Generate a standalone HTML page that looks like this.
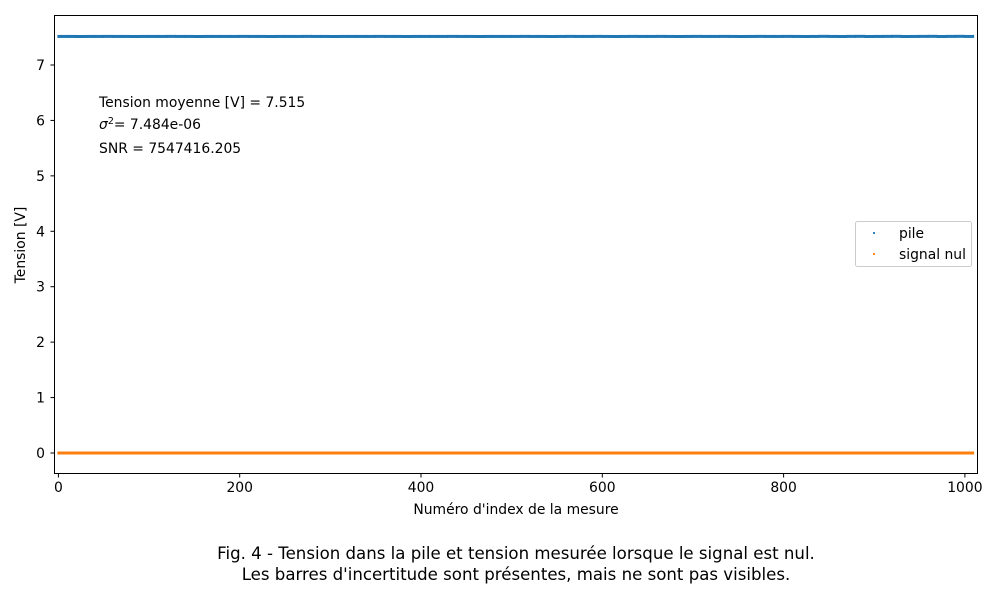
<!DOCTYPE html>
<html><head><meta charset="utf-8"><style>
body{margin:0;background:#fff;width:1000px;height:600px;overflow:hidden;font-family:"DejaVu Sans","Liberation Sans",sans-serif}
svg text{font-family:"DejaVu Sans","Liberation Sans",sans-serif}
</style></head><body>
<svg id="c" width="1000" height="600" xmlns="http://www.w3.org/2000/svg">
<rect x="0" y="0" width="1000" height="600" fill="#fff"/>
<g id="plot"></g>
<rect x="54.5" y="15.5" width="923" height="458" fill="none" stroke="#000" stroke-width="1"/>
<g id="axes"></g>
<text x="99" y="107" font-size="13.9">Tension moyenne [V] = 7.515</text>
<text x="99" y="129" font-size="13.9"><tspan font-style="italic">σ</tspan><tspan font-size="9.5" dy="-5">2</tspan><tspan dy="5">= 7.484e-06</tspan></text>
<text x="99" y="153" font-size="13.9">SNR = 7547416.205</text>
<g>
<rect x="855.5" y="221.5" width="116" height="45" rx="2" fill="#fff" stroke="#ccc"/>
<circle cx="874" cy="233" r="1.1" fill="#1f77b4"/>
<text x="899" y="238" font-size="13.9">pile</text>
<circle cx="874" cy="254" r="1.1" fill="#ff7f0e"/>
<text x="899" y="259" font-size="13.9">signal nul</text>
</g>
<text x="516" y="514" font-size="13.9" text-anchor="middle">Numéro d'index de la mesure</text>
<text transform="translate(25,245) rotate(-90)" font-size="13.9" text-anchor="middle">Tension [V]</text>
<text x="516" y="559" font-size="16.6" text-anchor="middle">Fig. 4 - Tension dans la pile et tension mesurée lorsque le signal est nul.</text>
<text x="516" y="580" font-size="16.6" text-anchor="middle">Les barres d'incertitude sont présentes, mais ne sont pas visibles.</text>
</svg>
<script>
const xTicks=[0,200,400,600,800,1000];
const yTicks=[0,1,2,3,4,5,6,7];
const sampleStep=10;
const pileValues=[7.515,7.515,7.514,7.515,7.515,7.516,7.515,7.515,7.514,7.515,7.515,7.515,7.516,7.515,7.515,7.514,7.515,7.515,7.515,7.515,7.516,7.515,7.515,7.514,7.515,7.515,7.515,7.516,7.515,7.515,7.514,7.515,7.515,7.515,7.515,7.516,7.515,7.515,7.514,7.515,7.515,7.515,7.515,7.516,7.515,7.515,7.514,7.515,7.515,7.515,7.515,7.516,7.515,7.515,7.514,7.515,7.516,7.515,7.515,7.516,7.515,7.514,7.515,7.516,7.515,7.515,7.516,7.515,7.514,7.515,7.516,7.515,7.515,7.516,7.515,7.514,7.515,7.516,7.515,7.515,7.516,7.515,7.514,7.515,7.517,7.515,7.514,7.516,7.517,7.514,7.515,7.516,7.517,7.514,7.515,7.516,7.517,7.514,7.516,7.517,7.515,7.516];
const nulValues=[0,0,0,0,0,0,0,0,0,0,0,0,0,0,0,0,0,0,0,0,0,0,0,0,0,0,0,0,0,0,0,0,0,0,0,0,0,0,0,0,0,0,0,0,0,0,0,0,0,0,0,0,0,0,0,0,0,0,0,0,0,0,0,0,0,0,0,0,0,0,0,0,0,0,0,0,0,0,0,0,0,0,0,0,0,0,0,0,0,0,0,0,0,0,0,0,0,0,0,0,0,0];
const X=v=>58.4+v*0.9065;
const Y=v=>453-v*55.43;
const NS="http://www.w3.org/2000/svg";
const plot=document.getElementById('plot'),axes=document.getElementById('axes');
function mk(t,a,p){const e=document.createElementNS(NS,t);for(const k in a)e.setAttribute(k,a[k]);p.appendChild(e);return e;}
function series(vals,color,name){
  vals.forEach((v,i)=>{
    const x0=X(i*sampleStep),x1=X(Math.min(i*sampleStep+sampleStep-1,1009))+1;
    const r=mk('rect',{x:x0-1,y:Y(v)-1.5,width:x1-x0+1,height:3,fill:color},plot);
    
    
  });
}
series(pileValues,'#1f77b4','pile');
series(nulValues,'#ff7f0e','signal-nul');
xTicks.forEach(t=>{
  const l=mk('line',{x1:X(t),x2:X(t),y1:474,y2:477.5,stroke:'#000'},axes);
  
  
  const tx=mk('text',{x:X(t),y:492,'font-size':13.9,'text-anchor':'middle'},axes);
  tx.textContent=t;
  
  
});
yTicks.forEach(t=>{
  const l=mk('line',{x1:50.5,x2:54,y1:Y(t),y2:Y(t),stroke:'#000'},axes);
  
  
  const tx=mk('text',{x:45,y:Y(t)+5,'font-size':13.9,'text-anchor':'end'},axes);
  tx.textContent=t;
  
  
});
</script>
</body></html>
